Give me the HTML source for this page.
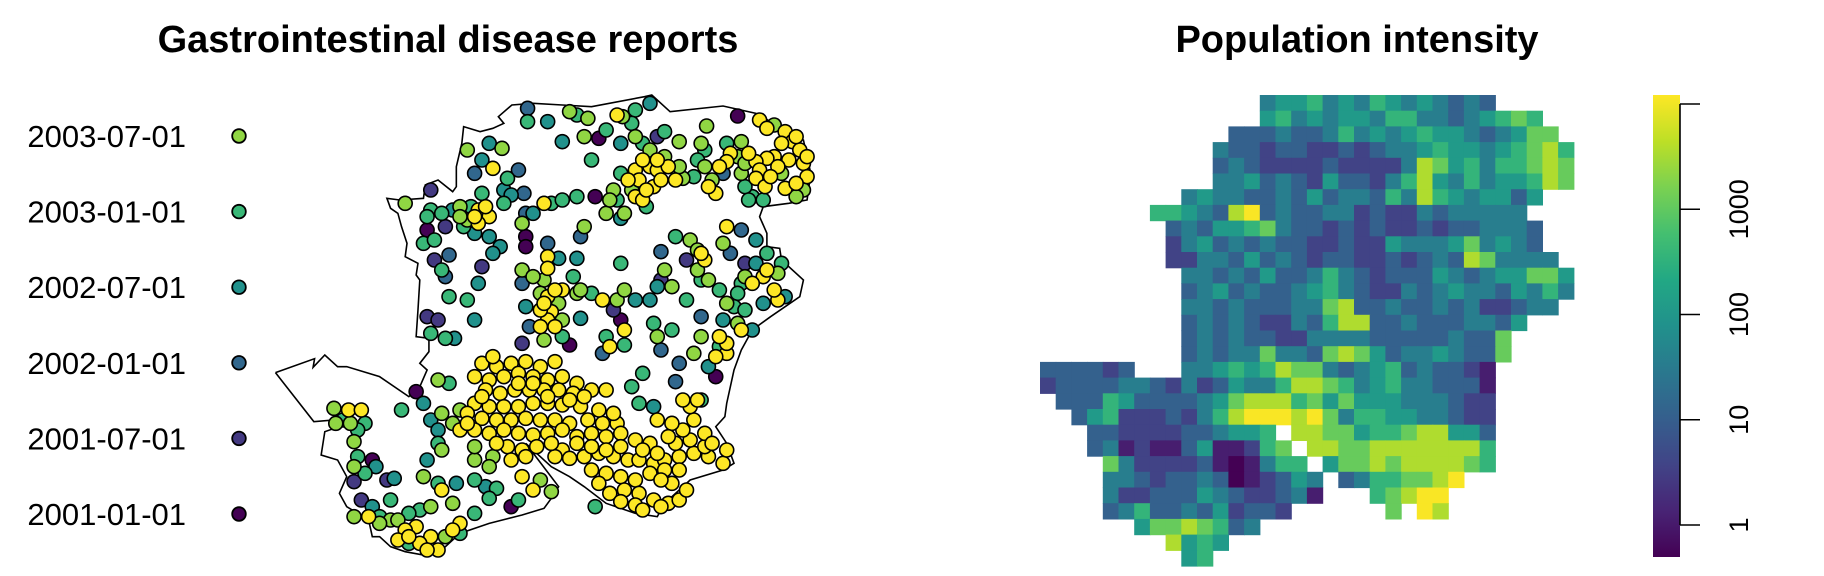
<!DOCTYPE html>
<html><head><meta charset="utf-8"><style>
body{margin:0;background:#fff;}
svg{display:block;font-family:"Liberation Sans",Arial,sans-serif;}
</style></head><body>
<svg id="fig" width="1824" height="576" viewBox="0 0 1824 576">
<text x="448" y="52" text-anchor="middle" font-size="38" font-weight="bold">Gastrointestinal disease reports</text>
<text x="1357" y="52" text-anchor="middle" font-size="38" font-weight="bold">Population intensity</text>
<g id="legend"></g>
<g id="map"></g>
<g id="raster"></g>
<g id="cbar"></g>
</svg>
<script>
// ---- data ----
const legendLabels=["2003-07-01","2003-01-01","2002-07-01","2002-01-01","2001-07-01","2001-01-01"];
const legendMonths=[30,24,18,12,6,0];
const monthValues=[0,6,12,18,24,30,36];
// report locations (east, south) in map units, grouped by months since 2001-01
const m00=[[900,145],[1280,78],[890,320],[700,440],[700,470],[430,420],[960,690],[820,765],[1220,860],[400,905],[660,1250],[280,1110]];
const m06=[[1060,140],[440,300],[480,410],[450,510],[580,530],[430,680],[460,690],[690,760],[1140,510],[1070,570],[1300,520],[940,660],[250,1230],[320,1170],[230,1175]];
const m12=[[705,55],[1240,250],[560,250],[680,240],[695,310],[490,495],[700,370],[850,440],[760,460],[690,580],[710,710],[910,790],[1070,485],[1260,490],[1290,420],[1180,680],[1070,780],[1120,820],[1110,875],[480,560]];
const m18=[[760,95],[800,155],[1040,40],[960,160],[960,385],[580,210],[600,160],[640,300],[660,315],[500,360],[560,430],[600,440],[630,470],[610,490],[570,580],[560,690],[505,745],[720,370],[840,505],[790,505],[700,650],[850,685],[1000,630],[1040,630],[1060,590],[1330,450],[1330,520],[1410,620],[1350,640],[1240,690],[1320,720],[1200,830],[1050,950],[420,940],[440,990],[460,1020],[430,1110],[590,1190],[510,1180],[280,1250],[340,1165],[290,1130]];
const m24=[[705,95],[840,75],[920,120],[880,210],[1000,60],[990,100],[1020,160],[1080,125],[1190,180],[1250,160],[1320,320],[1300,290],[1170,210],[1160,260],[960,250],[950,330],[1030,350],[650,265],[580,310],[550,350],[530,410],[440,360],[470,370],[420,460],[450,450],[470,540],[490,620],[540,630],[440,730],[480,745],[770,340],[800,330],[840,320],[800,740],[880,610],[920,740],[970,765],[1110,440],[1180,570],[1230,600],[1360,490],[1400,520],[1290,580],[1280,610],[1270,650],[1300,660],[1230,770],[1140,630],[1050,700],[1100,720],[1020,850],[990,890],[1010,940],[360,960],[490,880],[460,1060],[680,1230],[620,1195],[600,1225],[560,1270],[460,1180],[300,1280],[410,1260],[380,1270],[380,1360],[520,1330],[260,1000],[200,990],[240,1020],[240,1100],[260,1150],
[430,380],[640,340],[830,560],[960,520],[1350,330],[1310,330],[1180,930],[890,1250],[560,1170],[330,1230]];
const m30=[[820,65],[870,85],[860,140],[965,80],[1000,140],[1120,155],[1195,108],[1290,155],[1380,105],[1460,300],[1440,320],[1400,250],[1280,200],[1290,250],[1210,270],[1190,230],[1080,200],[1130,265],[990,300],[940,300],[970,370],[920,370],[540,180],[635,175],[520,350],[370,340],[690,400],[860,410],[750,570],[740,610],[840,610],[790,640],[800,690],[750,750],[950,630],[970,600],[1150,450],[1170,480],[1170,540],[1080,540],[1100,590],[1240,460],[1390,550],[1280,700],[1180,740],[1160,790],[1060,740],[460,870],[470,970],[470,1080],[560,1110],[610,1100],[740,1170],[770,1205],[500,1240],[480,1340],[330,1290],[230,1280],[420,1160],[440,1250],[175,955],[230,1055],[230,1130],
[1300,220],[1180,160],[1120,230],[1040,180],[930,330],[540,390],[520,380],[690,540],[720,560],[850,600],[1250,640],[1200,570],[1300,560],[520,960],[500,1000],[560,1070],[600,1130],[350,1290],[300,1300],[180,1000],[220,1000]];
const m36=[[950,75],[1340,90],[1360,115],[1410,125],[1430,155],[1450,180],[1460,220],[1470,260],[1410,295],[1420,210],[1380,200],[1360,205],[1330,215],[1340,240],[1330,265],[1355,290],[1260,190],[1250,215],[1220,310],[1000,240],[1010,270],[1040,230],[1060,240],[1090,230],[1110,270],[1050,290],[1000,320],[1020,330],[610,235],[570,360],[600,380],[570,400],[750,340],[760,500],[760,535],[800,600],[770,665],[760,690],[740,710],[780,710],[910,630],[970,720],[930,770],[1190,510],[1250,410],[1350,560],[1320,580],[1390,630],[1290,720],[1250,790],[1220,800],
[580,820],[620,830],[660,820],[700,815],[740,830],[780,815],[560,860],[600,870],[640,860],[680,850],[720,860],[760,870],[800,860],[840,880],[590,900],[630,910],[670,900],[710,900],[750,900],[790,900],[830,910],[880,900],[920,900],[560,940],[600,950],[640,950],[680,950],[720,940],[760,940],[800,945],[850,950],[540,970],[580,985],[620,990],[660,990],[700,985],[740,990],[780,990],[820,1000],[870,990],[910,1000],[950,1000],[520,1020],[560,1020],[600,1030],[640,1020],[680,1030],[720,1035],[760,1030],[800,1020],[840,1040],[880,1030],[920,1040],[960,1030],[650,1070],[690,1080],[730,1070],[800,1080],[840,1060],[660,1110],[700,1100],
[780,1100],[820,1105],[860,1100],[900,1090],[940,1100],[980,1110],[1010,1110],[1050,1120],[1080,1110],[1120,1100],[1160,1090],[1200,1100],[1240,1120],[1250,1080],[1190,1070],[1150,1050],[1110,1060],[1130,1020],[1160,990],[1100,1000],[1060,990],[1150,950],[1170,930],[1130,930],[1090,1040],[1040,1060],[1000,1050],[1060,1090],[880,1140],[920,1150],[960,1160],[1000,1170],[1040,1150],[1080,1140],[1120,1140],[1100,1180],[1070,1170],[900,1180],[930,1210],[970,1200],[1010,1210],[1050,1230],[1090,1240],[1120,1230],[1070,1250],[1000,1245],[960,1235],
[690,1160],[720,1200],[470,1200],[520,1300],[500,1320],[460,1380],[440,1340],[400,1310],[370,1320],[350,1350],[270,1280],[410,1360],[215,960],[250,960],
[1440,140],[1470,200],[1400,160],[1390,230],[1440,280],[1370,260],[1310,190],[1230,230],[1200,290],[1060,210],[1020,210],[980,270],[1070,270],[1030,300],[560,380],[590,350],[760,620],[780,600],[740,660],[750,640],[1180,490],[1380,600],[1360,540],[1250,760],[1230,740],
[610,800],[680,880],[720,880],[760,920],[820,930],[860,920],[580,920],[900,960],[940,970],[540,1000],[620,1060],[770,1060],[880,1070],[920,1080],[960,1070],[1020,1080],[1190,1030],[1210,1060],[1140,1200],[1020,1260],[380,1340],[430,1380]];
const boundary=[[15,848],[122,806],[118,832],[150,795],[185,830],[210,830],[300,860],[380,920],[410,890],[430,840],[410,820],[435,785],[435,745],[400,740],[405,660],[410,570],[400,555],[405,520],[370,500],[375,460],[360,410],[350,370],[330,355],[320,325],[355,330],[420,325],[425,285],[460,270],[500,305],[510,290],[510,230],[525,160],[530,110],[575,125],[610,115],[640,100],[625,80],[662,45],[720,40],[800,45],[880,50],[1025,20],[1045,15],[1095,65],[1240,48],[1330,70],[1460,150],[1480,250],[1470,330],[1420,340],[1350,350],[1340,380],[1360,430],[1360,470],[1395,475],[1400,510],[1460,570],[1450,620],[1370,680],[1320,720],[1290,780],[1270,840],[1250,940],[1245,980],[1220,1010],[1250,1060],[1270,1120],[1240,1140],[1150,1170],[1080,1240],[1060,1280],[1000,1270],[920,1240],[860,1190],[820,1160],[770,1130],[700,1060],[790,1190],[770,1225],[750,1255],[690,1275],[600,1300],[520,1330],[470,1380],[420,1395],[370,1385],[330,1370],[300,1340],[280,1340],[270,1290],[210,1250],[190,1210],[210,1160],[185,1110],[140,1095],[150,1025],[190,1010],[175,990],[120,995],[15,848]];
// raster: intensity class per cell (0..9, log scale), '.' = outside
const rasterRowStart=[14,14,12,11,11,11,9,7,8,8,8,9,9,9,9,9,9,0,0,1,2,3,3,4,4,4,4,6,8,9];
const rasterRows=[
"455645465454343",
"564545546644345676",
"333433464545655434577",
"43323322323445655456786",
"34322223222248756466787",
"44534325332468546455687",
"45443343534436486545535",
"665438934334423224344444",
"343556743323232232334443",
"245343433223225444574543",
"2244353432332232343874444",
"4434353346432333543455775",
"3453433456432243454435464",
"443433344783343343422344",
"3434322436883343334435",
"343433224444333334337",
"343447443787534454337",
"333323...44565687743456343321",
"23333443242354468876456443331",
"3336533334578886757555444322",
"356222324689998974665544322",
"332222334556.8877566788553",
"3412113511267.887788888886",
"7422223101466.57787888876",
"44323343012354.34667789",
"42233354322341...67899",
"346334352332......7.98",
"57787634",
"8565",
"56"];
const cbarTicks=[1,10,100,1000,10000];
const cbarTickLabels=["1","10","100","1000",""];

// ---- helpers ----
const NS="http://www.w3.org/2000/svg";
const vstops=["#440154","#482475","#414487","#355f8d","#2a788e","#21918c","#22a884","#44bf70","#7ad151","#bddf26","#fde725"];
function viridis(t){t=Math.max(0,Math.min(1,t));const p=t*10,i=Math.min(9,Math.floor(p)),f=p-i;
 const a=vstops[i],b=vstops[i+1];const c=k=>Math.round(parseInt(a.substr(k,2),16)*(1-f)+parseInt(b.substr(k,2),16)*f);
 return "rgb("+c(1)+","+c(3)+","+c(5)+")";}
function el(tag,attrs,parent){const e=document.createElementNS(NS,tag);for(const k in attrs)e.setAttribute(k,attrs[k]);parent.appendChild(e);return e;}
const X=e=>270+e/2.737, Y=s=>90+s/3;
const monthColor=m=>viridis(m/36);

// legend
const lg=document.getElementById("legend");
legendLabels.forEach((lab,i)=>{
 const cy=136+i*75.6;
 const t=el("text",{x:186,y:cy+11,"text-anchor":"end","font-size":31},lg);t.textContent=lab;
 
 
 const c=el("circle",{cx:239,cy:cy,r:6.8,fill:monthColor(legendMonths[i]),stroke:"#000","stroke-width":1.8},lg);
 
 
});

// map
const mg=document.getElementById("map");
const poly=el("polyline",{points:boundary.map(p=>X(p[0])+","+Y(p[1])).join(" "),fill:"none",stroke:"#000","stroke-width":1.6},mg);


const groups=[m00,m06,m12,m18,m24,m30,m36];
groups.forEach((g,gi)=>{g.forEach(p=>{
 const c=el("circle",{cx:X(p[0]),cy:Y(p[1]),r:7,fill:monthColor(monthValues[gi]),stroke:"#000","stroke-width":1.6},mg);
 
 
});});

// raster
const rg=document.getElementById("raster");
const CW=15.7;
rasterRows.forEach((row,r)=>{
 for(let j=0;j<row.length;j++){const ch=row[j];if(ch===".")continue;
  const d=+ch, logv=d*0.5-0.45, t=(logv+0.31)/4.39;
  const c=el("rect",{x:1040+(rasterRowStart[r]+j)*CW,y:95+r*CW,width:CW+0.6,height:CW+0.6,fill:viridis(t)},rg);
  
  
 }
});

// colorbar
const cb=document.getElementById("cbar");
const defs=el("defs",{},cb);
const grad=el("linearGradient",{id:"vg",x1:0,y1:1,x2:0,y2:0},defs);
vstops.forEach((s,i)=>el("stop",{offset:i/10,"stop-color":s},grad));
const bar=el("rect",{x:1653,y:95,width:27,height:462,fill:"url(#vg)"},cb);


const CY=v=>525-Math.log10(v)*105.25;
const axl=el("line",{x1:1680,x2:1680,y1:CY(cbarTicks[cbarTicks.length-1]),y2:CY(cbarTicks[0]),stroke:"#000","stroke-width":1.6},cb);


cbarTicks.forEach((v,i)=>{
 const tk=el("line",{x1:1680,x2:1700,y1:CY(v),y2:CY(v),stroke:"#000","stroke-width":1.6},cb);
 
 
 if(cbarTickLabels[i]){
  const t=el("text",{x:0,y:0,"text-anchor":"middle","font-size":27,transform:"translate(1748,"+CY(v)+") rotate(-90)"},cb);
  t.textContent=cbarTickLabels[i];
  
  
 }
});
</script>
</body></html>
